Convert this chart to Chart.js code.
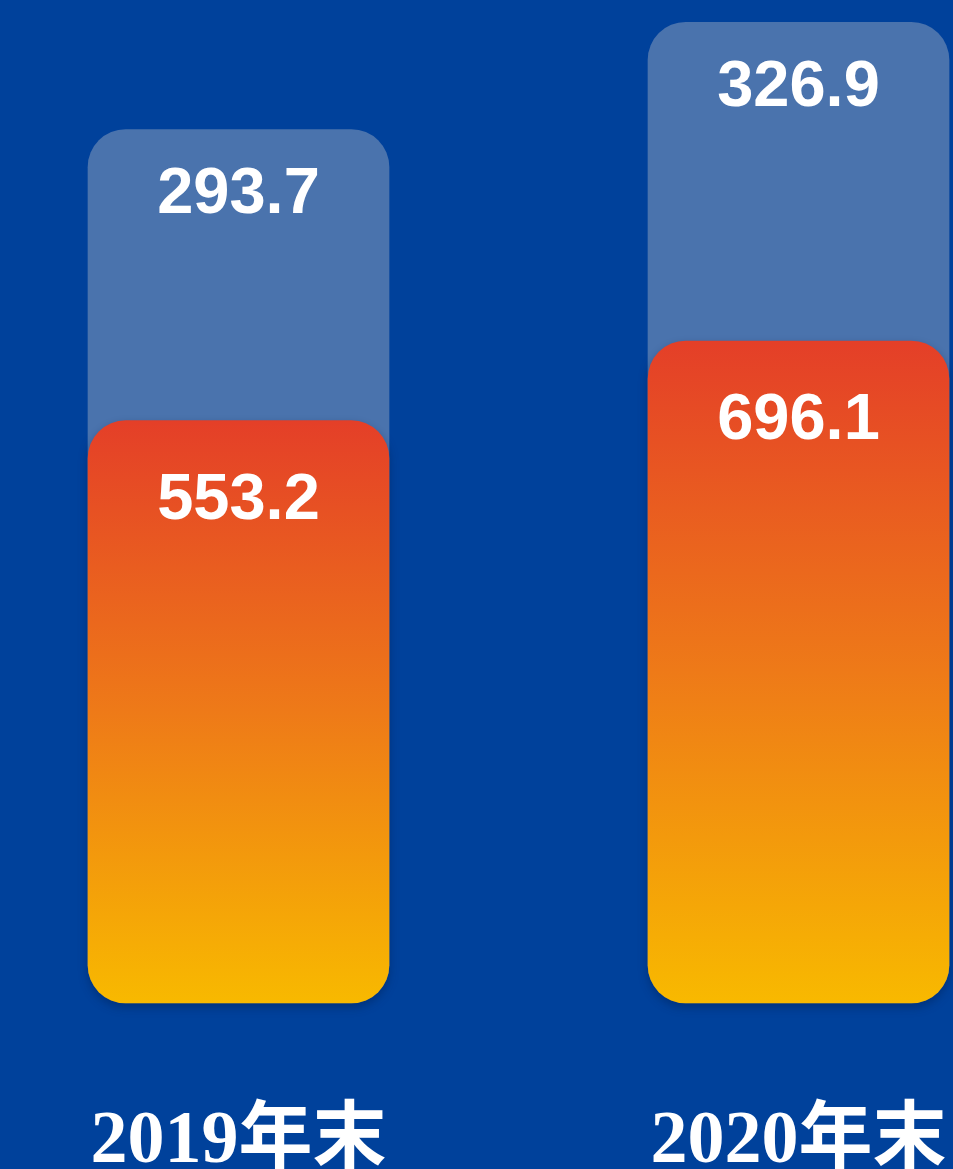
<!DOCTYPE html>
<html>
<head>
<meta charset="utf-8">
<script src="https://cdn.jsdelivr.net/npm/chart.js@4/dist/chart.umd.min.js"></script>
<style>
  html, body { margin: 0; padding: 0; background: #00419b; overflow: hidden; }
  #wrap { width: 953px; height: 1169px; position: relative; }
</style>
</head>
<body>
<div id="wrap"><canvas id="chart"></canvas></div>
<script>
// ===============================
// Data
// ===============================
const categories = ["2019年末", "2020年末"];
const orangeValues = [553.2, 696.1];   // front bar (gradient)
const blueValues = [293.7, 326.9];     // back bar (light blue)

// value ranges of the two hidden axes
const orangeMin = -491.7, orangeMax = 1308;
const blueMin = 23.2, blueMax = 333.8;

// ===============================
// Gradient for the front bars
// ===============================
function orangeGradient(c) {
  const chart = c.chart;
  const s = chart.scales.y;
  if (!chart.chartArea || !s || c.raw === undefined) return "#ec7419";
  const top = s.getPixelForValue(c.raw);
  const bottom = s.getPixelForValue(orangeMin);
  const g = chart.ctx.createLinearGradient(0, top, 0, bottom);
  g.addColorStop(0, "#e43f28");
  g.addColorStop(0.5, "#ee7a18");
  g.addColorStop(1, "#f8b900");
  return g;
}

// ===============================
// Value labels, category labels, shadow
// ===============================
const barExtras = {
  id: "barExtras",
  beforeDatasetDraw(chart, args) {
    if (args.index !== 0) return;
    const ctx = chart.ctx;
    ctx.save();
    ctx.shadowColor = "rgba(0, 20, 60, 0.35)";
    ctx.shadowBlur = 10;
    ctx.shadowOffsetY = 4;
  },
  afterDatasetDraw(chart, args) {
    if (args.index !== 0) return;
    chart.ctx.restore();
  },
  afterDatasetsDraw(chart) {
    const ctx = chart.ctx;
    ctx.save();
    ctx.fillStyle = "#ffffff";
    ctx.textAlign = "center";
    ctx.textBaseline = "alphabetic";

    // values inside the bars
    ctx.font = "bold 65px 'Liberation Sans', Arial, sans-serif";
    chart.data.datasets.forEach((ds, i) => {
      const meta = chart.getDatasetMeta(i);
      const offset = i === 0 ? 98 : 84;
      meta.data.forEach((bar, j) => {
        ctx.fillText(ds.data[j].toFixed(1), bar.x, bar.y + offset);
      });
    });

    // category labels under the bars
    const x = chart.scales.x;
    ctx.font = "bold 74px 'Liberation Serif', 'Noto Sans CJK SC', serif";
    categories.forEach((label, i) => {
      ctx.fillText(label, x.getPixelForValue(i), chart.chartArea.bottom + 159);
    });
    ctx.restore();
  }
};

// ===============================
// Chart
// ===============================
new Chart(document.getElementById("chart"), {
  type: "bar",
  data: {
    labels: categories,
    datasets: [
      {
        data: orangeValues,
        yAxisID: "y",
        base: orangeMin,
        backgroundColor: orangeGradient,
        borderRadius: 38,
        borderSkipped: false,
        barThickness: 301,
        grouped: false,
        clip: false
      },
      {
        data: blueValues,
        yAxisID: "y2",
        base: blueMin,
        backgroundColor: "#4a73ad",
        borderRadius: 38,
        borderSkipped: false,
        barThickness: 301,
        grouped: false,
        clip: false
      }
    ]
  },
  options: {
    responsive: true,
    maintainAspectRatio: false,
    animation: false,
    layout: { padding: { left: 238.5, right: 154.5, top: 0, bottom: 166 } },
    plugins: {
      legend: { display: false },
      tooltip: { enabled: false }
    },
    scales: {
      x: { display: false, offset: false },
      y: { display: false, min: orangeMin, max: orangeMax },
      y2: { display: false, position: "right", min: blueMin, max: blueMax }
    }
  },
  plugins: [barExtras]
});
</script>
</body>
</html>
